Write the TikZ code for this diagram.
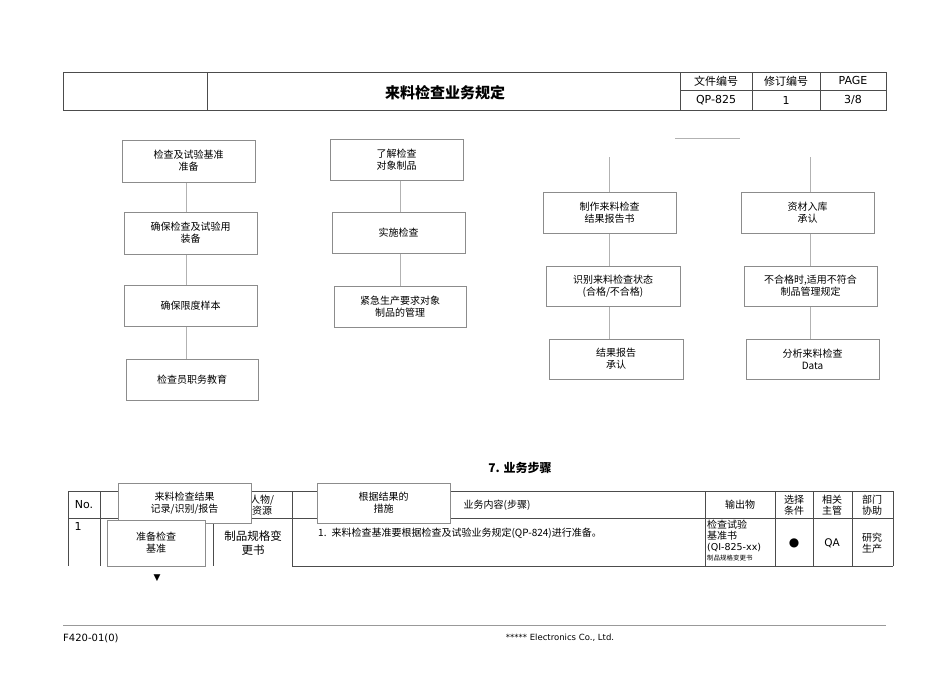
\documentclass[tikz,border=0pt]{standalone}
\usepackage{fontspec}
\setmainfont{DejaVu Sans}
\newfontfamily\cjk{Noto Sans CJK SC}
\begin{document}
\begin{tikzpicture}[x=1pt,y=-1pt,
  bx/.style={draw=black!45,fill=white,line width=0.6pt,align=center,font=\cjk\fontsize{10}{12}\selectfont,inner sep=0pt},
  ln/.style={draw=black!30,line width=0.5pt},
  tb/.style={draw=black!70,line width=0.7pt},
  tt/.style={font=\cjk\fontsize{10}{11}\selectfont,align=center,inner sep=0pt}]
\useasboundingbox (0,0) rectangle (950,672);
% header
\draw[tb] (63,72) rectangle (886,110);
\draw[tb] (207,72)--(207,110) (680,72)--(680,110) (752,72)--(752,110) (820,72)--(820,110) (680,90)--(886,90);
\node[font=\cjk\bfseries\fontsize{15}{17}\selectfont] (title) at (445,93) {来料检查业务规定};
\node[tt,font=\cjk\fontsize{11}{12}\selectfont] (h1) at (716,81) {文件编号};
\node[tt,font=\cjk\fontsize{11}{12}\selectfont] (h2) at (786,81) {修订编号};
\node[tt,font=\fontsize{11}{12}\selectfont] (h3) at (853,80) {PAGE};
\node[tt,font=\fontsize{11}{12}\selectfont] (h4) at (716,100) {QP-825};
\node[tt,font=\fontsize{11}{12}\selectfont] (h5) at (786,100) {1};
\node[tt,font=\fontsize{11}{12}\selectfont] (h6) at (853,100) {3/8};
% connector lines
\coordinate (t3) at (609,157); \coordinate (t4) at (810,157);
\coordinate (s1) at (675,138); \coordinate (s2) at (740,138);
\draw[ln] (s1)--(s2);
\draw[ln] (186,182)--(186,359);
\draw[ln] (400,180)--(400,286);
\draw[ln] (t3)--(609,339);
\draw[ln] (t4)--(810,339);
% column 1
\node[bx,minimum width=133,minimum height=42] (a1) at (188.5,161) {检查及试验基准\\准备};
\node[bx,minimum width=133,minimum height=42] (a2) at (190.5,233) {确保检查及试验用\\装备};
\node[bx,minimum width=133,minimum height=41] (a3) at (190.5,305.5) {确保限度样本};
\node[bx,minimum width=132,minimum height=41] (a4) at (192,379.5) {检查员职务教育};
% column 2
\node[bx,minimum width=133,minimum height=41] (b1) at (396.5,159.5) {了解检查\\对象制品};
\node[bx,minimum width=133,minimum height=41] (b2) at (398.5,232.5) {实施检查};
\node[bx,minimum width=132,minimum height=41] (b3) at (400,306.5) {紧急生产要求对象\\制品的管理};
% column 3
\node[bx,minimum width=133,minimum height=41] (c1) at (609.5,212.5) {制作来料检查\\结果报告书};
\node[bx,minimum width=134,minimum height=40] (c2) at (613,286) {识别来料检查状态\\(合格/不合格)};
\node[bx,minimum width=134,minimum height=40] (c3) at (616,359) {结果报告\\承认};
% column 4
\node[bx,minimum width=133,minimum height=41] (d1) at (807.5,212.5) {资材入库\\承认};
\node[bx,minimum width=133,minimum height=40] (d2) at (810.5,286) {不合格时,适用不符合\\制品管理规定};
\node[bx,minimum width=133,minimum height=40] (d3) at (812.5,359) {分析来料检查\\Data};
% section heading
\node[font=\cjk\bfseries\fontsize{12}{14}\selectfont] (sec) at (520,468) {7. 业务步骤};
% table
\draw[tb] (68,491)--(893,491) (68,518)--(893,518) (292,566)--(893,566);
\draw[tb] (68,491)--(68,566) (100,491)--(100,566) (213,491)--(213,566) (292,491)--(292,566)
  (705,491)--(705,566) (775,491)--(775,566) (813,491)--(813,566) (852,491)--(852,566) (893,491)--(893,566);
\node[tt,font=\fontsize{11}{12}\selectfont] (n0) at (84,505) {No.};
\node[tt] (n1) at (262,505) {人物/\\资源};
\node[tt] (n2) at (497,505) {业务内容(步骤)};
\node[tt] (n3) at (740,505) {输出物};
\node[tt] (n4) at (794,505) {选择\\条件};
\node[tt] (n5) at (832,505) {相关\\主管};
\node[tt] (n6) at (872,505) {部门\\协助};
\node[bx,minimum width=133,minimum height=40] (o1) at (184.5,503) {来料检查结果\\记录/识别/报告};
\node[bx,minimum width=133,minimum height=40] (o2) at (383.5,503) {根据结果的\\措施};
\node[tt,font=\fontsize{11}{12}\selectfont] (r0) at (78,526) {1};
\node[bx,minimum width=98,minimum height=46] (r1) at (156,543) {准备检查\\基准};
\node[tt,font=\cjk\fontsize{11.5}{14}\selectfont] (r2) at (253,543) {制品规格变\\更书};
\node[tt,anchor=west] (r3) at (318,533) {1.\enspace 来料检查基准要根据检查及试验业务规定(QP-824)进行准备。};
\node[tt,anchor=north west,align=left,font=\cjk\fontsize{10}{11}\selectfont] (r4) at (707,520) {检查试验\\基准书\\{\fontsize{9.5}{11}\selectfont\rmfamily (QI-825-xx)}\\[-1pt]{\fontsize{6.5}{7}\selectfont 制品规格变更书}};
\node[tt,font=\fontsize{12}{12}\selectfont] (r5) at (794,543) {●};
\node[tt,font=\fontsize{10.5}{12}\selectfont] (r6) at (832,543) {QA};
\node[tt] (r7) at (872,543) {研究\\生产};
\node[tt,font=\fontsize{9}{9}\selectfont] (arr) at (157,578) {▼};
% footer
\draw[draw=black!40,line width=0.5pt] (63,625)--(886,625);
\node[anchor=west,font=\fontsize{10}{11}\selectfont,inner sep=0pt] (f1) at (63,638) {F420-01(0)};
\node[font=\fontsize{8.5}{10}\selectfont] (f2) at (560,638) {***** Electronics Co., Ltd.};
\end{tikzpicture}
\end{document}
